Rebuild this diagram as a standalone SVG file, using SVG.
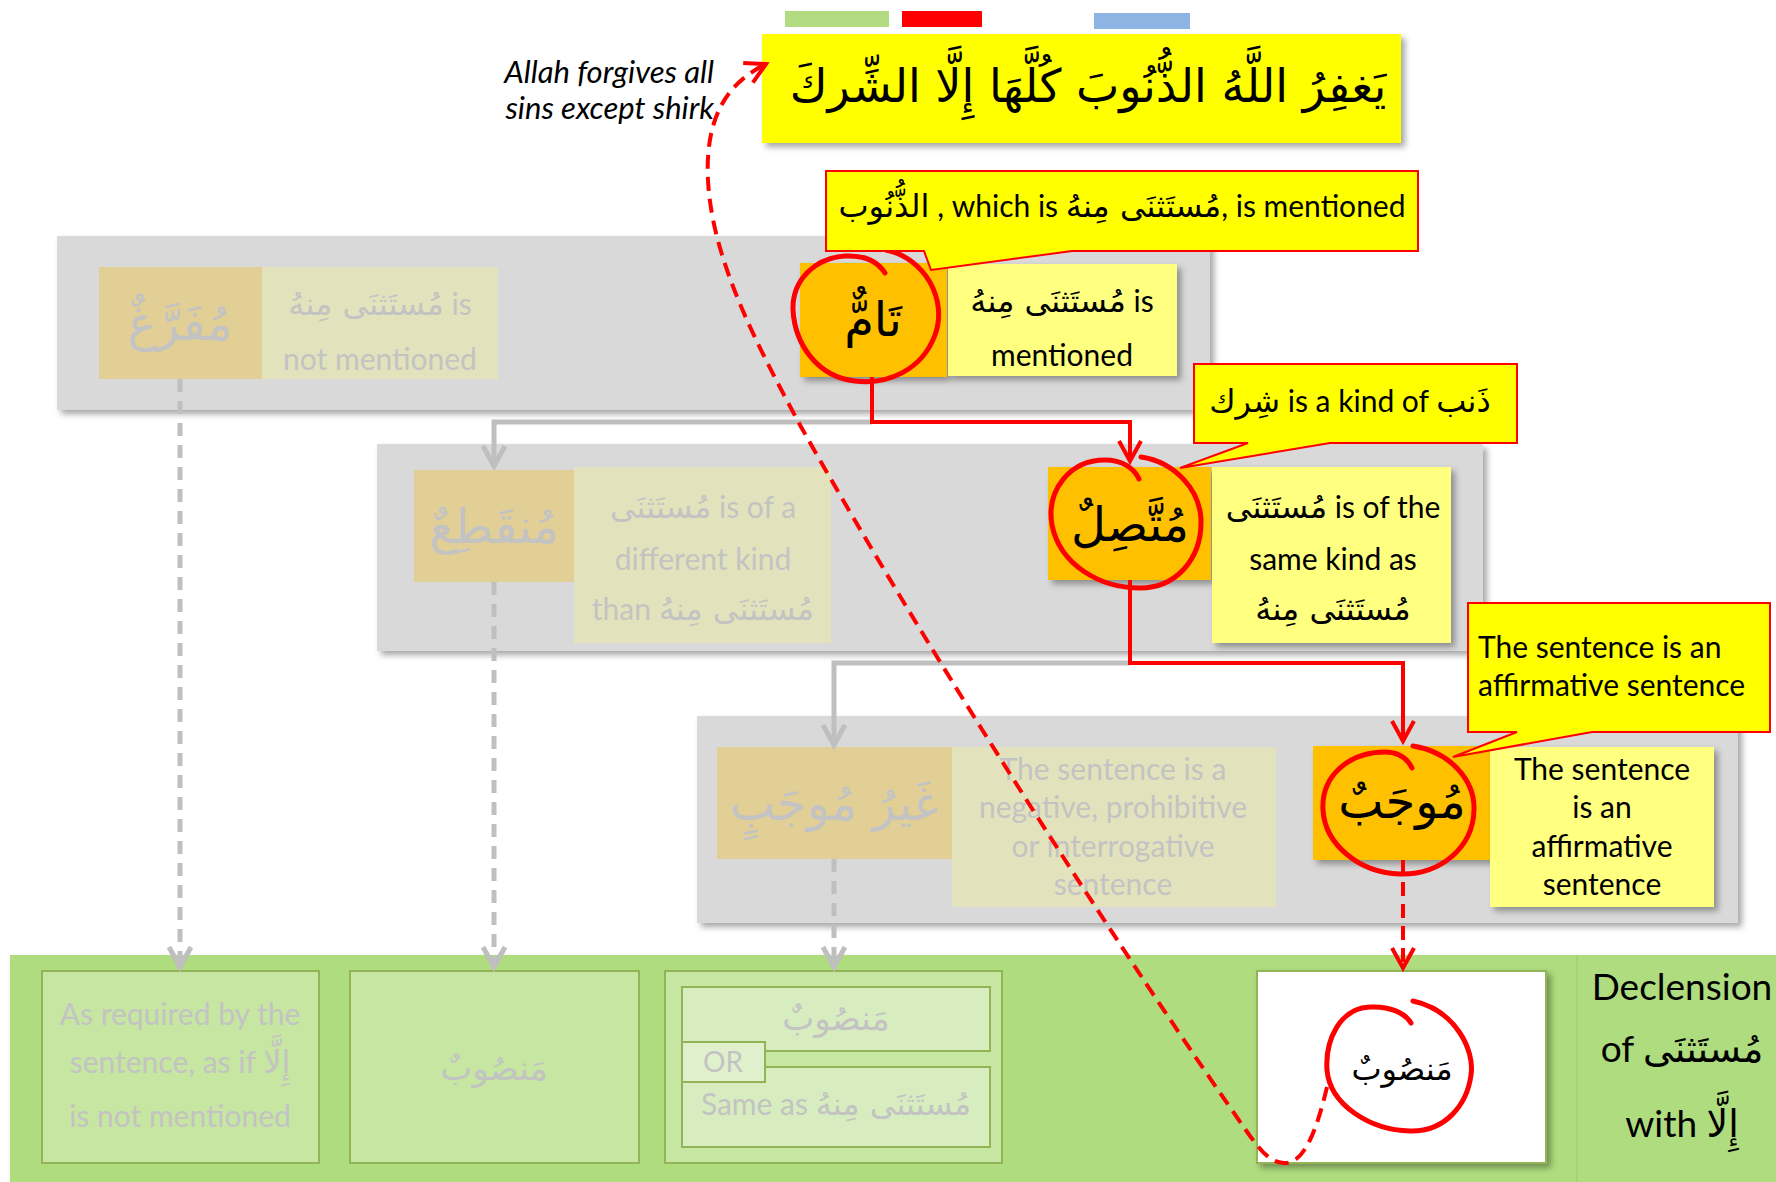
<svg xmlns="http://www.w3.org/2000/svg" width="1776" height="1182" viewBox="0 0 1776 1182">
<defs>
<filter id="sh" x="-5%" y="-5%" width="115%" height="120%">
<feDropShadow dx="4" dy="4" stdDeviation="3" flood-color="#000" flood-opacity="0.35"/>
</filter>
<marker id="arR" viewBox="-24 -14 28 28" refX="0" refY="0" markerWidth="28" markerHeight="28" markerUnits="userSpaceOnUse" orient="auto" overflow="visible">
<path d="M-20,-11 L0,0 L-20,11" fill="none" stroke="#ff0000" stroke-width="4" stroke-dasharray="none"/>
</marker>
<marker id="arG" viewBox="-24 -14 28 28" refX="0" refY="0" markerWidth="28" markerHeight="28" markerUnits="userSpaceOnUse" orient="auto" overflow="visible">
<path d="M-20,-11 L0,0 L-20,11" fill="none" stroke="#bfbfbf" stroke-width="5" stroke-dasharray="none"/>
</marker>
<style>
.band{fill:#d9d9d9;filter:url(#sh)}
.orF{fill:#e2cf96}
.yeF{fill:#e2e3bc}
.or{fill:#ffc000;filter:url(#sh)}
.ye{fill:#ffff80;filter:url(#sh)}
.t{font-family:Lato,"DejaVu Sans",sans-serif;font-size:30px;text-anchor:middle}
.ar{font-family:"DejaVu Sans",sans-serif;text-anchor:middle}
.a{font-family:"DejaVu Sans",sans-serif;font-size:32px}
.fd{fill:#c3c3c3}
.bk{fill:#000}
.call{fill:#ffff00;stroke:#ff0000;stroke-width:2}
.circ{fill:none;stroke:#ff0000;stroke-width:5;stroke-linecap:round}
.red{stroke:#ff0000;stroke-width:4;fill:none}
.gray{stroke:#bfbfbf;stroke-width:5;fill:none}
.rdash{stroke:#ff0000;stroke-width:4;fill:none;stroke-dasharray:14 8}
.gdash{stroke:#bfbfbf;stroke-width:5;fill:none;stroke-dasharray:13 9}
.gbox{fill:#c6e6a2;stroke:#92b457;stroke-width:2}
.gin{fill:#d7edbf;stroke:#92b457;stroke-width:2}
</style>
</defs>
<rect width="1776" height="1182" fill="#ffffff"/>

<g id="legend-bars">
<rect x="785" y="11" width="104" height="16" fill="#b3dc82"/>
<rect x="902" y="11" width="80" height="16" fill="#ff0000"/>
<rect x="1094" y="13" width="96" height="16" fill="#8eb4e3"/>
</g>

<g id="title">
<rect x="762" y="34" width="639" height="109" fill="#ffff00" filter="url(#sh)"/>
<text class="ar bk" x="1088" y="102" style="font-size:46px">يَغفِرُ اللَّهُ الذُّنُوبَ كُلَّهَا إِلَّا الشِّركَ</text>
</g>

<g id="translation">
<text x="714" y="83" font-family="Lato,sans-serif" font-style="italic" font-size="31" text-anchor="end" fill="#000">Allah forgives all</text>
<text x="714" y="119" font-family="Lato,sans-serif" font-style="italic" font-size="31" text-anchor="end" fill="#000">sins except shirk</text>
</g>

<g id="bands">
<rect class="band" x="57" y="236" width="1153" height="174"/>
<rect class="band" x="377" y="444" width="1106" height="207"/>
<rect class="band" x="697" y="716" width="1041" height="207"/>
<rect x="10" y="955" width="1766" height="227" fill="#afdc7e" filter="url(#sh)"/>
<line x1="1577" y1="955" x2="1577" y2="1182" stroke="#a6d374" stroke-width="2"/>
</g>

<g id="node-mufarragh">
<rect class="orF" x="99" y="267" width="163" height="112"/>
<text class="ar fd" x="180" y="340" style="font-size:48px">مُفَرَّغٌ</text>
<rect class="yeF" x="262" y="267" width="236" height="112"/>
<text class="t fd" x="380" y="315"><tspan class="a">مُستَثنَى مِنهُ</tspan> is</text>
<text class="t fd" x="380" y="370">not mentioned</text>
</g>

<g id="node-tamm">
<rect class="or" x="800" y="263" width="147" height="114"/>
<text class="ar bk" x="873" y="336" style="font-size:48px">تَامٌّ</text>
<rect class="ye" x="948" y="264" width="229" height="112"/>
<text class="t bk" x="1062" y="312"><tspan class="a">مُستَثنَى مِنهُ</tspan> is</text>
<text class="t bk" x="1062" y="366">mentioned</text>
</g>

<g id="node-munqati">
<rect class="orF" x="414" y="470" width="160" height="112"/>
<text class="ar fd" x="494" y="543" style="font-size:48px">مُنقَطِعٌ</text>
<rect class="yeF" x="574" y="467" width="257" height="176"/>
<text class="t fd" x="703" y="518"><tspan class="a">مُستَثنَى</tspan>  is of a</text>
<text class="t fd" x="703" y="570">different kind</text>
<text class="t fd" x="703" y="620">than <tspan class="a">مُستَثنَى مِنهُ</tspan></text>
</g>

<g id="node-muttasil">
<rect class="or" x="1048" y="467" width="163" height="113"/>
<text class="ar bk" x="1130" y="541" style="font-size:48px">مُتَّصِلٌ</text>
<rect class="ye" x="1212" y="467" width="239" height="176"/>
<text class="t bk" x="1333" y="518"><tspan class="a">مُستَثنَى</tspan>  is of the</text>
<text class="t bk" x="1333" y="570">same kind as</text>
<text class="t bk" x="1333" y="620"><tspan class="a">مُستَثنَى مِنهُ</tspan></text>
</g>

<g id="node-ghayr-mujab">
<rect class="orF" x="717" y="747" width="235" height="112"/>
<text class="ar fd" x="834" y="820" style="font-size:48px">غَيرُ مُوجَبٍ</text>
<rect class="yeF" x="952" y="747" width="324" height="160"/>
<text class="t fd" x="1113" y="780">The sentence is a</text>
<text class="t fd" x="1113" y="818">negative, prohibitive</text>
<text class="t fd" x="1113" y="857">or interrogative</text>
<text class="t fd" x="1113" y="895">sentence</text>
</g>

<g id="node-mujab">
<rect class="or" x="1313" y="746" width="178" height="114"/>
<text class="ar bk" x="1402" y="818" style="font-size:48px">مُوجَبٌ</text>
<rect class="ye" x="1490" y="747" width="224" height="160"/>
<text class="t bk" x="1602" y="780">The sentence</text>
<text class="t bk" x="1602" y="818">is an</text>
<text class="t bk" x="1602" y="857">affirmative</text>
<text class="t bk" x="1602" y="895">sentence</text>
</g>

<g id="result-mufarragh">
<rect class="gbox" x="42" y="971" width="277" height="192"/>
<text class="t fd" x="180" y="1025">As required by the</text>
<text class="t fd" x="180" y="1073">sentence, as if <tspan class="a">إِلَّا</tspan></text>
<text class="t fd" x="180" y="1127">is not mentioned</text>
</g>

<g id="result-munqati">
<rect class="gbox" x="350" y="971" width="289" height="192"/>
<text class="ar fd" x="494" y="1080" style="font-size:34px">مَنصُوبٌ</text>
</g>

<g id="result-ghayr-mujab">
<rect class="gbox" x="665" y="971" width="337" height="192"/>
<rect class="gin" x="682" y="987" width="308" height="64"/>
<text class="ar fd" x="836" y="1030" style="font-size:34px">مَنصُوبٌ</text>
<rect class="gin" x="682" y="1067" width="308" height="80"/>
<text class="t fd" x="836" y="1115">Same as <tspan class="a">مُستَثنَى مِنهُ</tspan></text>
<rect x="682" y="1042" width="83" height="40" fill="#e0f0cc" stroke="#92b457" stroke-width="2"/>
<text class="t fd" x="723" y="1072" style="font-size:28px">OR</text>
</g>

<g id="result-mujab">
<rect x="1257" y="971" width="289" height="192" fill="#ffffff" stroke="#92b457" stroke-width="2" filter="url(#sh)"/>
<text class="ar bk" x="1402" y="1080" style="font-size:32px">مَنصُوبٌ</text>
</g>

<g id="label-declension">
<text class="t bk" x="1682" y="1000" style="font-size:37px">Declension</text>
<text class="t bk" x="1682" y="1062" style="font-size:37px">of <tspan class="a" style="font-size:38px">مُستَثنَى</tspan></text>
<text class="t bk" x="1682" y="1137" style="font-size:37px">with <tspan class="a" style="font-size:38px">إِلَّا</tspan></text>
</g>

<g id="connectors">
<path class="gray" d="M872,422 H494 V466" marker-end="url(#arG)"/>
<path class="red" d="M872,377 V422 H1130 V461" marker-end="url(#arR)"/>
<path class="gray" d="M1130,663 H834 V745" marker-end="url(#arG)"/>
<path class="red" d="M1130,580 V663 H1403 V741" marker-end="url(#arR)"/>
<path class="gdash" d="M180,379 V967" marker-end="url(#arG)"/>
<path class="gdash" d="M494,582 V967" marker-end="url(#arG)"/>
<path class="gdash" d="M834,859 V967" marker-end="url(#arG)"/>
<path class="rdash" d="M1403,860 V968" marker-end="url(#arR)"/>
</g>

<g id="highlights">
<path class="circ" d="M886,250 C925,258 948,300 935,335 C922,370 888,385 855,381 C818,377 795,345 793,310 C792,280 815,258 845,256 C865,255 878,262 885,273"/>
<path class="circ" d="M1141,457 C1175,462 1200,490 1201,520 C1202,560 1175,588 1140,588 C1100,588 1060,565 1052,525 C1046,490 1070,460 1105,460 C1122,460 1134,468 1139,479"/>
<path class="circ" d="M1413,746 C1450,752 1475,780 1474,810 C1473,848 1440,875 1400,874 C1360,873 1325,845 1323,810 C1321,775 1350,752 1385,752 C1398,752 1407,758 1412,768"/>
<path class="circ" d="M1413,1001 C1455,1010 1475,1050 1471,1075 C1467,1105 1445,1132 1410,1131 C1370,1130 1330,1105 1327,1070 C1325,1040 1340,1008 1370,1007 C1390,1006 1405,1013 1411,1023"/>
</g>

<g id="callouts">
<path class="call" d="M826,171 H1418 V251 H1072 L931,270 L924,251 H826 Z"/>
<text class="t bk" x="1122" y="217"><tspan class="a">الذُّنُوب</tspan> , which is <tspan class="a">مُستَثنَى مِنهُ</tspan>, is mentioned</text>
<path class="call" d="M1194,364 H1517 V443 H1330 L1180,468 L1248,443 H1194 Z"/>
<text class="t bk" x="1350" y="412"><tspan class="a">شِرك</tspan>  is a kind of <tspan class="a">ذَنب</tspan></text>
<path class="call" d="M1468,603 H1770 V732 H1592 L1453,757 L1517,732 H1468 Z"/>
<text class="t bk" x="1478" y="658" style="text-anchor:start">The sentence is an</text>
<text class="t bk" x="1478" y="696" style="text-anchor:start">affirmative sentence</text>
</g>

<g id="shirk-link">
<path class="rdash" d="M1327,1087 C1318,1125 1305,1165 1284,1163 C1270,1162 1262,1152 1250,1136 C1130,965 935,665 800,425 C760,350 712,262 708,180 C705,120 725,84 766,64" marker-end="url(#arR)"/>
</g>
</svg>
